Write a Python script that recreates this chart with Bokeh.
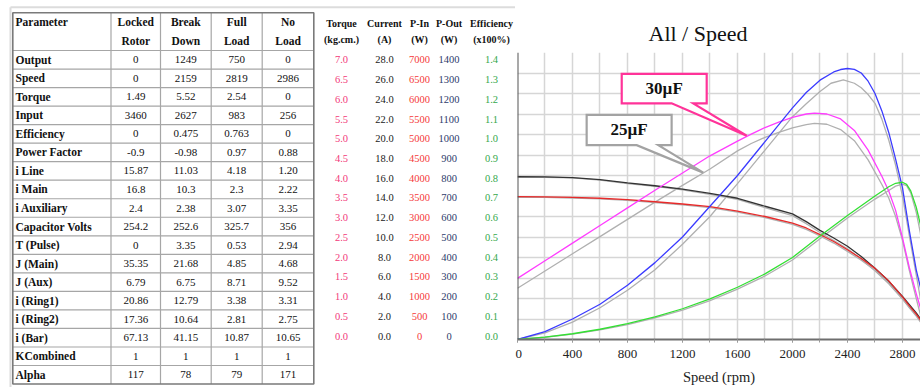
import numpy as np
from bokeh.plotting import figure
from bokeh.models import Range1d, Span, SingleIntervalTicker
from bokeh.layouts import row, column
from bokeh.embed import file_html
from bokeh.resources import INLINE
from bokeh.core.properties import value

SERIF = "Liberation Serif"

# ---------------- table data ----------------
params = ["Output", "Speed", "Torque", "Input", "Efficiency", "Power Factor", "i Line", "i Main",
          "i Auxiliary", "Capacitor Volts", "T (Pulse)", "J (Main)", "J (Aux)", "i (Ring1)",
          "i (Ring2)", "i (Bar)", "KCombined", "Alpha"]
locked_rotor = ["0", "0", "1.49", "3460", "0", "-0.9", "15.87", "16.8", "2.4", "254.2", "0",
                "35.35", "6.79", "20.86", "17.36", "67.13", "1", "117"]
break_down = ["1249", "2159", "5.52", "2627", "0.475", "-0.98", "11.03", "10.3", "2.38", "252.6",
              "3.35", "21.68", "6.75", "12.79", "10.64", "41.15", "1", "78"]
full_load = ["750", "2819", "2.54", "983", "0.763", "0.97", "4.18", "2.3", "3.07", "325.7",
             "0.53", "4.85", "8.71", "3.38", "2.81", "10.87", "1", "79"]
no_load = ["0", "2986", "0", "256", "0", "0.88", "1.20", "2.22", "3.35", "356", "2.94", "4.68",
           "9.52", "3.31", "2.75", "10.65", "1", "171"]
col_heads = [("Locked", "Rotor"), ("Break", "Down"), ("Full", "Load"), ("No", "Load")]

# ---------------- scale columns ----------------
scale_heads = [("Torque", "(kg.cm.)"), ("Current", "(A)"), ("P-In", "(W)"), ("P-Out", "(W)"),
               ("Efficiency", "(x100%)")]
torque_ticks = ["7.0", "6.5", "6.0", "5.5", "5.0", "4.5", "4.0", "3.5", "3.0", "2.5", "2.0",
                "1.5", "1.0", "0.5", "0.0"]
current_ticks = ["28.0", "26.0", "24.0", "22.0", "20.0", "18.0", "16.0", "14.0", "12.0", "10.0",
                 "8.0", "6.0", "4.0", "2.0", "0.0"]
pin_ticks = ["7000", "6500", "6000", "5500", "5000", "4500", "4000", "3500", "3000", "2500",
             "2000", "1500", "1000", "500", "0"]
pout_ticks = ["1400", "1300", "1200", "1100", "1000", "900", "800", "700", "600", "500", "400",
              "300", "200", "100", "0"]
eff_ticks = ["1.4", "1.3", "1.2", "1.1", "1.0", "0.9", "0.8", "0.7", "0.6", "0.5", "0.4", "0.3",
             "0.2", "0.1", "0.0"]
scale_colors = ["#f2397a", "#1a1a1a", "#f53a3a", "#2d3b6b", "#35a84c"]

# ---------------- curves (30 uF coloured, 25 uF grey) ----------------
speed_t = [0, 200, 400, 600, 800, 1000, 1200, 1400, 1600, 1700, 1800, 1900, 2000, 2100, 2160,
           2250, 2350, 2450, 2550, 2650, 2700, 2750, 2800, 2850, 2900, 2950, 2986]
torque_30 = [1.49, 1.92, 2.35, 2.78, 3.21, 3.64, 4.06, 4.48, 4.84, 5.01, 5.17, 5.30, 5.42, 5.50,
             5.52, 5.50, 5.38, 5.10, 4.62, 3.98, 3.62, 3.15, 2.48, 1.75, 1.12, 0.55, 0.0]
torque_25 = [1.25, 1.67, 2.09, 2.51, 2.93, 3.35, 3.76, 4.16, 4.60, 4.78, 4.93, 5.05, 5.16, 5.24,
             5.27, 5.25, 5.12, 4.85, 4.38, 3.78, 3.45, 3.00, 2.42, 1.68, 1.00, 0.35, 0.0]

speed_i = [0, 200, 400, 600, 800, 1000, 1200, 1400, 1600, 1800, 2000, 2100, 2200, 2300, 2400,
           2500, 2600, 2700, 2800, 2850, 2900, 2930, 2986]
current_30 = [15.88, 15.86, 15.80, 15.60, 15.28, 15.00, 14.68, 14.25, 13.78, 13.00, 12.25, 11.50,
              10.65, 9.90, 9.10, 8.10, 6.95, 5.70, 4.20, 3.40, 2.60, 2.05, 1.20]
current_25 = [15.85, 15.83, 15.76, 15.55, 15.22, 14.93, 14.60, 14.15, 13.66, 12.86, 12.08, 11.30,
              10.44, 9.66, 8.85, 7.84, 6.70, 5.44, 3.95, 3.15, 2.35, 1.80, 1.00]
pin_30 = [3485, 3480, 3465, 3445, 3410, 3360, 3305, 3240, 3130, 3000, 2840, 2720, 2560, 2390,
          2190, 1975, 1735, 1430, 1040, 820, 620, 480, 256]
pin_25 = [3470, 3465, 3450, 3428, 3392, 3342, 3285, 3218, 3105, 2972, 2810, 2688, 2525, 2352,
          2150, 1932, 1690, 1385, 990, 770, 570, 430, 210]

speed_p30 = [0, 200, 400, 600, 800, 1000, 1200, 1400, 1600, 1800, 2000, 2100, 2200, 2300, 2350,
             2400, 2450, 2500, 2550, 2600, 2650, 2700, 2750, 2800, 2850, 2900, 2930, 2960, 2986]
pout_30 = [0, 38, 100, 172, 265, 375, 500, 650, 800, 965, 1130, 1205, 1265, 1305, 1317, 1322,
           1318, 1300, 1260, 1200, 1115, 1010, 880, 740, 530, 340, 255, 130, 0]
speed_p25 = [0, 200, 400, 600, 800, 1000, 1200, 1400, 1600, 1800, 2000, 2100, 2200, 2280, 2370,
             2450, 2500, 2550, 2600, 2650, 2700, 2750, 2800, 2850, 2900, 2930, 2960, 2975]
pout_25 = [0, 32, 85, 155, 240, 340, 465, 600, 760, 924, 1087, 1150, 1210, 1250, 1266, 1250,
           1228, 1195, 1152, 1075, 973, 850, 700, 505, 315, 200, 80, 0]

speed_e = [0, 200, 400, 600, 800, 1000, 1200, 1400, 1600, 1800, 2000, 2200, 2400, 2600, 2700,
           2750, 2800, 2830, 2860, 2900, 2930, 2960, 2986]
eff_30 = [0, 0.012, 0.028, 0.050, 0.077, 0.110, 0.150, 0.198, 0.255, 0.320, 0.400, 0.505, 0.605,
          0.700, 0.745, 0.762, 0.767, 0.757, 0.725, 0.645, 0.562, 0.42, 0.0]
eff_25 = [0, 0.011, 0.026, 0.047, 0.073, 0.105, 0.143, 0.190, 0.246, 0.310, 0.388, 0.492, 0.593,
          0.685, 0.727, 0.748, 0.758, 0.750, 0.715, 0.620, 0.520, 0.34, 0.0]

# each quantity is drawn on the shared torque grid using its own column scale
SCALE_CURRENT = 4.0     # A per kg.cm division
SCALE_PIN = 1000.0      # W per kg.cm
SCALE_POUT = 200.0      # W per kg.cm
SCALE_EFF = 0.2         # fraction per kg.cm

# callouts: (label, colour, box rpm left/right, box torque bottom/top, tail base rpm, tip point)
callouts = [
    ("25\u00b5F", "#a3a3a3", (503, 1121), (4.74, 5.48), (867, 1024), (1351, 4.07)),
    ("30\u00b5F", "#ff3399", (758, 1376), (5.76, 6.48), (1121, 1278), (1667, 4.97)),
]

# ======================= left panel =======================
W_LEFT, H = 515, 387
left = figure(width=W_LEFT, height=H, x_range=Range1d(0, W_LEFT), y_range=Range1d(H, 0),
              output_backend="svg", toolbar_location=None, min_border=0,
              x_axis_location=None, y_axis_location=None)
left.grid.visible = False
left.outline_line_color = None

FRAME_Y = 6.7
FRAME_X = 10
left.segment(x0=[FRAME_X, FRAME_X], y0=[FRAME_Y, FRAME_Y], x1=[W_LEFT, FRAME_X], y1=[FRAME_Y, H],
             line_color="#dcdcdc", line_width=2)

TX = [12.3, 110.5, 160.0, 210.7, 261.7, 313.3]
T_TOP, HEAD_BOT, ROW_H = 12.3, 50.0, 18.53
n_rows = len(params)
T_BOT = HEAD_BOT + n_rows * ROW_H

# inner grid lines
vx = TX[1:-1]
left.segment(x0=vx, y0=[T_TOP] * len(vx), x1=vx, y1=[T_BOT] * len(vx),
             line_color="#a6a6a6", line_width=1.2)
hy = [HEAD_BOT + k * ROW_H for k in range(n_rows)]
left.segment(x0=[TX[0]] * len(hy), y0=hy, x1=[TX[-1]] * len(hy), y1=hy,
             line_color="#a6a6a6", line_width=1.2)
left.quad(left=[TX[0]], right=[TX[-1]], top=[T_TOP], bottom=[T_BOT], fill_color=None,
          line_color="#7a7a7a", line_width=1.6)

TFONT = value(SERIF)
TSIZE = value("11.5px")
HEAD_Y1, HEAD_Y2 = 21.7, 40.7
left.text(x=[15], y=[HEAD_Y1], text=["Parameter"], text_font=TFONT, text_font_size=TSIZE,
          text_font_style="bold", text_align="left", text_baseline="middle", text_color="#111111")
centers = [(TX[i] + TX[i + 1]) / 2 for i in range(1, 5)]
left.text(x=centers + centers, y=[HEAD_Y1] * 4 + [HEAD_Y2] * 4,
          text=[h[0] for h in col_heads] + [h[1] for h in col_heads],
          text_font=TFONT, text_font_size=TSIZE, text_font_style="bold", text_align="center",
          text_baseline="middle", text_color="#111111")
row_y = [HEAD_BOT + (i + 0.5) * ROW_H for i in range(n_rows)]
left.text(x=[15] * n_rows, y=row_y, text=params, text_font=TFONT, text_font_size=TSIZE,
          text_font_style="bold", text_align="left", text_baseline="middle", text_color="#111111")
for cx, vals in zip(centers, [locked_rotor, break_down, full_load, no_load]):
    left.text(x=[cx] * n_rows, y=row_y, text=vals, text_font=TFONT, text_font_size=value("11px"),
              text_align="center", text_baseline="middle", text_color="#111111")

# scale columns
SC_X = [341, 384, 419, 448.5, 491]
SC_HEAD1, SC_HEAD2 = 22.5, 38.5
SC_TOP, SC_STEP = 59.3, 19.74
left.text(x=SC_X + SC_X, y=[SC_HEAD1] * 5 + [SC_HEAD2] * 5,
          text=[h[0] for h in scale_heads] + [h[1] for h in scale_heads],
          text_font=TFONT, text_font_size=value("10px"), text_font_style="bold",
          text_align="center", text_baseline="middle", text_color="#111111")
for cx, ticks, colr in zip(SC_X, [torque_ticks, current_ticks, pin_ticks, pout_ticks, eff_ticks],
                           scale_colors):
    ys = [SC_TOP + k * SC_STEP for k in range(len(ticks))]
    left.text(x=[cx] * len(ticks), y=ys, text=ticks, text_font=TFONT,
              text_font_size=value("10.5px"), text_align="center", text_baseline="middle",
              text_color=colr)

# ======================= right panel =======================
W_RIGHT = 920 - W_LEFT
STRIP_H = 9
strip = figure(width=W_RIGHT, height=STRIP_H, x_range=Range1d(0, W_RIGHT),
               y_range=Range1d(STRIP_H, 0), output_backend="svg", toolbar_location=None,
               min_border=0, x_axis_location=None, y_axis_location=None)
strip.grid.visible = False
strip.outline_line_color = None
strip.add_layout(Span(location=FRAME_Y, dimension="width", line_color="#dcdcdc", line_width=2))

chart = figure(width=W_RIGHT, height=H - STRIP_H, x_range=Range1d(0, 2931), y_range=Range1d(0, 7),
               output_backend="svg", toolbar_location=None, min_border_left=2,
               min_border_right=0, min_border_top=43, min_border_bottom=48,
               y_axis_location=None)
chart.outline_line_color = None
chart.title.text = "All / Speed"
chart.title.text_font = SERIF
chart.title.text_font_size = "22px"
chart.title.text_font_style = "normal"
chart.title.text_color = "#111111"
chart.title.align = "left"
chart.title.offset = 131
chart.title.standoff = 13

chart.xaxis.ticker = SingleIntervalTicker(interval=400, num_minor_ticks=2)
chart.xgrid.ticker = SingleIntervalTicker(interval=200)
chart.ygrid.ticker = SingleIntervalTicker(interval=0.5)
for g in (chart.xgrid, chart.ygrid):
    g.grid_line_color = "#d6d6d6"
    g.grid_line_width = 1.5
chart.xaxis.axis_line_color = "#6e6e6e"
chart.xaxis.axis_line_width = 2
chart.xaxis.major_tick_out = 3
chart.xaxis.major_tick_in = 0
chart.xaxis.minor_tick_out = 3
chart.xaxis.minor_tick_in = 0
chart.xaxis.major_tick_line_color = "#9a9a9a"
chart.xaxis.minor_tick_line_color = "#9a9a9a"
chart.xaxis.major_label_text_font = SERIF
chart.xaxis.major_label_text_font_size = "13px"
chart.xaxis.major_label_text_color = "#222222"
chart.xaxis.major_label_standoff = 7
chart.xaxis.axis_label = "Speed (rpm)"
chart.xaxis.axis_label_text_font = SERIF
chart.xaxis.axis_label_text_font_size = "14.5px"
chart.xaxis.axis_label_text_font_style = "normal"
chart.xaxis.axis_label_text_color = "#222222"
chart.xaxis.axis_label_standoff = 8

chart.add_layout(Span(location=0, dimension="height", line_color="#555555", line_width=2))

LW = 1.3
GREY = "#b0b0b0"
chart.line(speed_t, torque_25, line_color=GREY, line_width=LW)
chart.line(speed_p25, np.array(pout_25) / SCALE_POUT, line_color=GREY, line_width=LW)
chart.line(speed_e, np.array(eff_25) / SCALE_EFF, line_color=GREY, line_width=LW)
chart.line(speed_i, np.array(current_25) / SCALE_CURRENT, line_color=GREY, line_width=LW)
chart.line(speed_i, np.array(pin_25) / SCALE_PIN, line_color=GREY, line_width=LW)

chart.line(speed_i, np.array(current_30) / SCALE_CURRENT, line_color="#333333", line_width=LW)
chart.line(speed_i, np.array(pin_30) / SCALE_PIN, line_color="#e82a2a", line_width=LW)
chart.line(speed_t, torque_30, line_color="#ff3dff", line_width=LW)
chart.line(speed_p30, np.array(pout_30) / SCALE_POUT, line_color="#3b3bff", line_width=LW)
chart.line(speed_e, np.array(eff_30) / SCALE_EFF, line_color="#33e033", line_width=LW)

for label, colr, (bx0, bx1), (by0, by1), (tx0, tx1), (px, py) in callouts:
    xs = [bx0, bx1, bx1, tx1, px, tx0, bx0]
    ys = [by1, by1, by0, by0, py, by0, by0]
    chart.patch(xs, ys, fill_color="white", line_color=colr, line_width=2.2, line_join="miter")
    chart.text(x=[(bx0 + bx1) / 2], y=[(by0 + by1) / 2], text=[label], text_font=value(SERIF),
               text_font_size=value("17px"), text_font_style="bold", text_align="center",
               text_baseline="middle", text_color="#111111")

layout = row(left, column(strip, chart))
open("out.html", "w").write(file_html(layout, INLINE))
